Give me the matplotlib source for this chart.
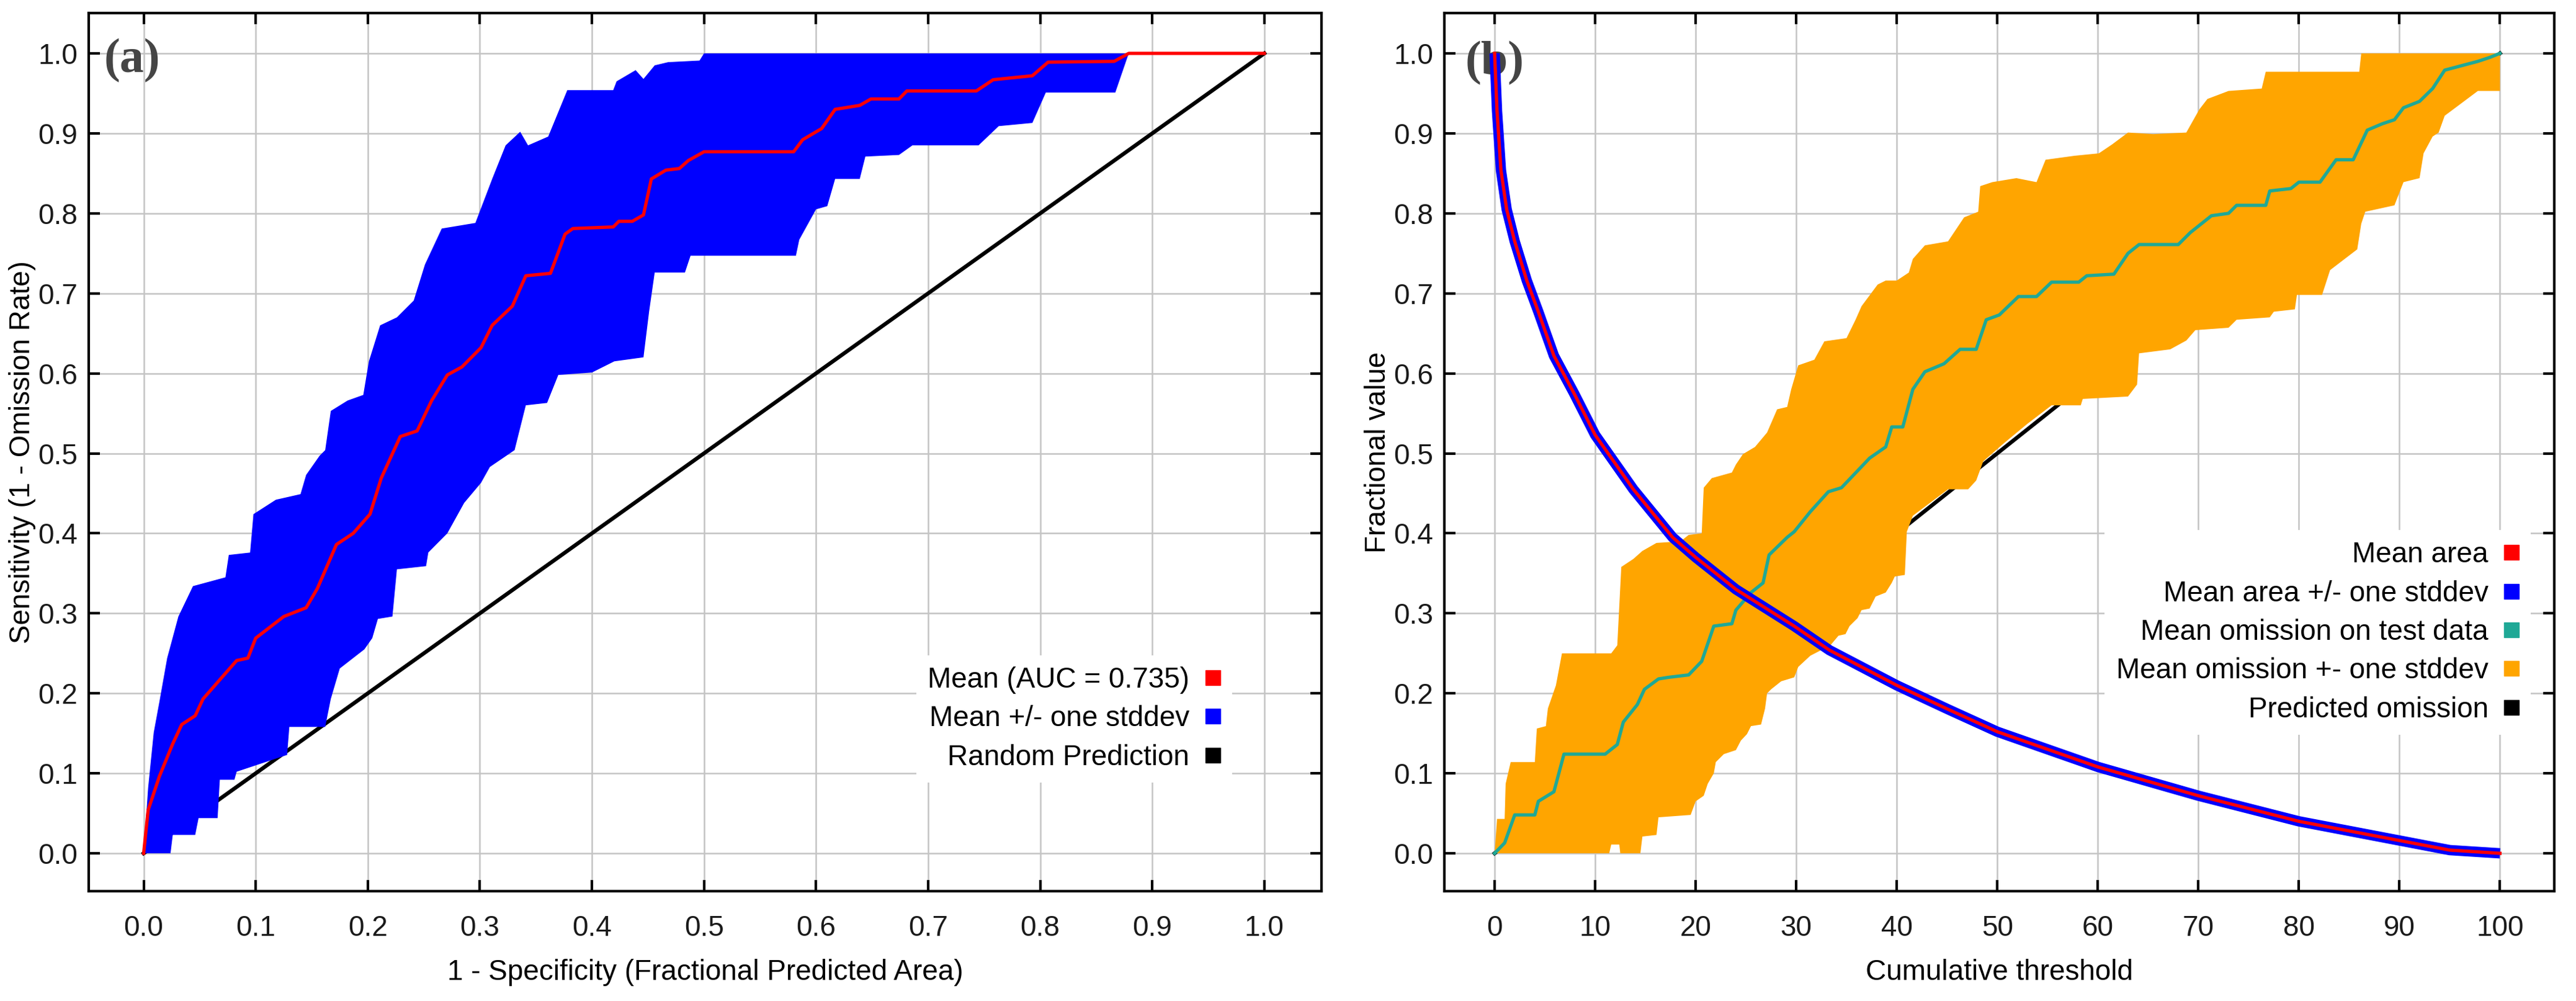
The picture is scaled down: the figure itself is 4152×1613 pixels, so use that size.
import matplotlib
matplotlib.use("Agg")
import matplotlib.pyplot as plt
import numpy as np
from matplotlib.lines import Line2D

plt.rcParams['font.family'] = ['Liberation Sans', 'DejaVu Sans']

# ---- panel (a): ROC ----
roc_x = [0, 0.004, 0.014, 0.026, 0.034, 0.046, 0.053, 0.068, 0.083, 0.093,
         0.1, 0.113, 0.125, 0.145, 0.155, 0.172, 0.187, 0.202, 0.212, 0.229,
         0.244, 0.257, 0.271, 0.284, 0.301, 0.311, 0.329, 0.341, 0.363, 0.376,
         0.383, 0.419, 0.424, 0.436, 0.446, 0.453, 0.466, 0.478, 0.486, 0.5,
         0.58, 0.588, 0.605, 0.617, 0.639, 0.649, 0.674, 0.681, 0.743, 0.758,
         0.793, 0.807, 0.866, 0.879, 1.0]
roc_y = [0, 0.054, 0.096, 0.137, 0.161, 0.172, 0.193, 0.217, 0.241, 0.244,
         0.269, 0.283, 0.296, 0.307, 0.331, 0.386, 0.4, 0.424, 0.469, 0.521,
         0.528, 0.566, 0.598, 0.608, 0.632, 0.66, 0.684, 0.722, 0.725, 0.774,
         0.781, 0.783, 0.79, 0.79, 0.798, 0.843, 0.854, 0.856, 0.866, 0.877,
         0.877, 0.892, 0.906, 0.93, 0.935, 0.943, 0.943, 0.953, 0.953, 0.967,
         0.972, 0.989, 0.99, 1.0, 1.0]

roc_up_x = [0, 0.004, 0.009, 0.014, 0.021, 0.031, 0.044, 0.073, 0.076, 0.095,
            0.098, 0.118, 0.14, 0.145, 0.157, 0.162, 0.167, 0.182, 0.196, 0.201,
            0.211, 0.226, 0.241, 0.251, 0.266, 0.296, 0.311, 0.323, 0.336, 0.343,
            0.361, 0.378, 0.419, 0.422, 0.439, 0.446, 0.456, 0.468, 0.496, 0.5,
            0.879]
roc_up_y = [0, 0.082, 0.151, 0.189, 0.244, 0.296, 0.334, 0.345, 0.373, 0.376,
            0.424, 0.442, 0.449, 0.473, 0.497, 0.504, 0.553, 0.566, 0.573, 0.615,
            0.66, 0.67, 0.691, 0.736, 0.781, 0.788, 0.843, 0.885, 0.902, 0.885,
            0.896, 0.954, 0.954, 0.965, 0.979, 0.968, 0.985, 0.989, 0.991, 1.0,
            1.0]

roc_lo_x = [0, 0.024, 0.026, 0.046, 0.049, 0.066, 0.068, 0.081, 0.083, 0.128,
            0.13, 0.162, 0.167, 0.175, 0.197, 0.204, 0.209, 0.222, 0.226, 0.252,
            0.254, 0.271, 0.286, 0.301, 0.309, 0.331, 0.341, 0.36, 0.37, 0.4,
            0.42, 0.446, 0.451, 0.456, 0.483, 0.488, 0.582, 0.585, 0.6, 0.61,
            0.617, 0.639, 0.644, 0.674, 0.686, 0.745, 0.763, 0.793, 0.805, 0.867,
            0.879]
roc_lo_y = [0, 0, 0.023, 0.023, 0.044, 0.044, 0.092, 0.092, 0.102, 0.123,
            0.158, 0.158, 0.193, 0.231, 0.255, 0.269, 0.293, 0.296, 0.355, 0.359,
            0.376, 0.4, 0.438, 0.463, 0.483, 0.504, 0.56, 0.563, 0.598, 0.601,
            0.615, 0.62, 0.677, 0.726, 0.726, 0.747, 0.747, 0.767, 0.805, 0.809,
            0.843, 0.843, 0.871, 0.873, 0.885, 0.885, 0.909, 0.913, 0.951, 0.951,
            1.0]

random_x = [0, 1]
random_y = [0, 1]

roc_labels = ["Mean (AUC = 0.735)", "Mean +/- one stddev", "Random Prediction"]

# ---- panel (b): omission / predicted area ----
area_x = [0, 0.24, 0.63, 1.2, 2.0, 3.2, 4.35, 5.9, 7.9, 10, 13.8, 17.7, 20, 24,
          29.8, 33.3, 40, 45.1, 50, 60, 70, 80, 90, 95, 100]
area_y = [1.0, 0.928, 0.854, 0.805, 0.765, 0.716, 0.677, 0.622, 0.575, 0.523,
          0.455, 0.395, 0.37, 0.33, 0.284, 0.254, 0.21, 0.18, 0.152, 0.108,
          0.072, 0.04, 0.016, 0.004, 0.0]

om_x = [0, 1.0, 2.0, 4.0, 4.35, 5.9, 6.9, 11.0, 12.2, 12.8,
        14.2, 14.9, 16.3, 17.3, 19.3, 20.6, 21.8, 23.6, 24, 25.5,
        26.7, 27.3, 29.1, 29.8, 31.4, 33.2, 34.5, 37.3, 38.9, 39.5,
        40.6, 41.6, 42.8, 44.7, 46.3, 47.9, 48.9, 50.2, 52.1, 53.9,
        55.4, 58.1, 58.9, 61.6, 63.0, 64.1, 68, 69.2, 71.3, 73,
        73.8, 76.7, 77.1, 79.2, 80, 82.1, 83.7, 85.4, 86.8, 88.3,
        89.5, 90.4, 92, 93.3, 94.5, 97.8, 99, 100]
om_y = [0, 0.013, 0.048, 0.048, 0.065, 0.077, 0.124, 0.124, 0.136, 0.164,
        0.186, 0.205, 0.218, 0.22, 0.223, 0.24, 0.284, 0.287, 0.304, 0.326,
        0.338, 0.373, 0.395, 0.402, 0.427, 0.452, 0.457, 0.494, 0.508, 0.533,
        0.533, 0.58, 0.602, 0.612, 0.63, 0.63, 0.667, 0.673, 0.696, 0.696,
        0.714, 0.714, 0.722, 0.724, 0.75, 0.761, 0.761, 0.776, 0.797, 0.8,
        0.81, 0.81, 0.828, 0.831, 0.839, 0.839, 0.867, 0.867, 0.904, 0.912,
        0.917, 0.932, 0.94, 0.956, 0.979, 0.99, 0.995, 1.0]

om_up_x = [0, 0.24, 1.0, 1.1, 1.6, 4.0, 4.2, 5.1, 5.3, 6.1,
           6.7, 11.6, 12.2, 12.6, 13.8, 14.7, 16.1, 18.5, 19.3, 20.6,
           20.8, 21.6, 23.6, 24, 24.7, 25.9, 27.1, 28.1, 29.1, 29.5,
           30.2, 31.8, 32.8, 35, 35.9, 36.5, 38.1, 38.9, 40, 41.2,
           41.6, 42.8, 45.1, 46.7, 48.1, 48.3, 49.5, 51.9, 53.9, 54.8,
           57.7, 60.1, 61.4, 63.0, 65.5, 68.8, 70.1, 70.9, 73, 76.3,
           76.7, 86.0, 86.2, 100]
om_up_y = [0, 0.043, 0.043, 0.087, 0.114, 0.114, 0.156, 0.159, 0.181, 0.21,
           0.25, 0.25, 0.26, 0.358, 0.368, 0.378, 0.388, 0.39, 0.398, 0.4,
           0.457, 0.469, 0.476, 0.486, 0.499, 0.508, 0.526, 0.555, 0.558, 0.58,
           0.61, 0.617, 0.64, 0.644, 0.667, 0.684, 0.711, 0.716, 0.716, 0.726,
           0.743, 0.76, 0.765, 0.795, 0.802, 0.834, 0.839, 0.844, 0.839, 0.867,
           0.872, 0.875, 0.886, 0.901, 0.899, 0.901, 0.93, 0.943, 0.953, 0.956,
           0.977, 0.977, 1.0, 1.0]

om_lo_x = [0, 11.4, 11.6, 12.4, 12.5, 14.5, 14.7, 16.1, 16.3, 19.5,
           20, 20.8, 21.2, 21.8, 22, 22.8, 24, 24.5, 25.1, 25.5,
           26.5, 26.9, 27.1, 27.5, 28.5, 29.8, 30.2, 31.4, 33.4, 34.2,
           34.9, 35.3, 36.1, 36.5, 37.3, 37.9, 38.9, 39.5, 39.8, 40.8,
           41.0, 41.6, 45.1, 47.1, 47.9, 48.6, 50.6, 53, 55.4, 58.3,
           58.5, 63, 63.9, 64.1, 67.2, 68.8, 69.7, 73, 73.8, 77.1,
           77.5, 79.6, 79.8, 82.3, 83.1, 85.8, 86.2, 86.6, 89.5, 90.4,
           92, 92.4, 93.3, 93.9, 94.5, 97.8, 100, 100]
om_lo_y = [0, 0, 0.011, 0.011, 0, 0, 0.021, 0.023, 0.045, 0.048,
           0.065, 0.072, 0.087, 0.1, 0.114, 0.124, 0.129, 0.141, 0.149, 0.159,
           0.161, 0.181, 0.2, 0.205, 0.215, 0.22, 0.233, 0.247, 0.26, 0.272,
           0.274, 0.284, 0.294, 0.304, 0.306, 0.321, 0.326, 0.338, 0.346, 0.348,
           0.402, 0.422, 0.455, 0.455, 0.466, 0.49, 0.512, 0.537, 0.56, 0.56,
           0.568, 0.571, 0.586, 0.625, 0.63, 0.641, 0.654, 0.657, 0.667, 0.67,
           0.677, 0.68, 0.698, 0.698, 0.729, 0.755, 0.787, 0.802, 0.81, 0.839,
           0.844, 0.875, 0.896, 0.901, 0.922, 0.953, 0.953, 1.0]

pred_x = [0, 100]
pred_y = [0, 1.0]

om_labels = ["Mean area", "Mean area +/- one stddev", "Mean omission on test data",
             "Mean omission +- one stddev", "Predicted omission"]

# colours
RED = '#ff0000'
BLUE = '#0000ff'
TEAL = '#1fa896'
ORANGE = '#ffa500'
BLACK = '#000000'

FS = 33

fig = plt.figure(figsize=(41.52, 16.13), dpi=100)
ax1 = fig.add_axes([0.03444, 0.10973, 0.47857, 0.87725])
ax2 = fig.add_axes([0.56069, 0.10973, 0.43088, 0.87725])


def style_axes(ax):
    ax.set_axisbelow(True)
    ax.grid(True, color='#c4c4c4', linewidth=1.8)
    for sp in ax.spines.values():
        sp.set_linewidth(3)
        sp.set_color('black')
    ax.tick_params(direction='in', length=13, width=3, top=True, right=True,
                   labelsize=FS, colors='black', labelcolor='#1a1a1a')
    ax.tick_params(axis='x', pad=27)
    ax.tick_params(axis='y', pad=13)
    ax.set_yticks(np.arange(0, 1.01, 0.1))
    ax.set_yticklabels([f"{v:.1f}" for v in np.arange(0, 1.01, 0.1)])
    ax.set_ylim(-0.0473, 1.0504)


# ---- left panel ----
ax1.plot(random_x, random_y, color=BLACK, linewidth=4.5, zorder=2)
ax1.fill(np.concatenate([roc_up_x, roc_lo_x[::-1]]),
         np.concatenate([roc_up_y, roc_lo_y[::-1]]),
         color=BLUE, linewidth=0, zorder=3)
ax1.plot(roc_x, roc_y, color=RED, linewidth=3.8, zorder=4)
style_axes(ax1)
ax1.set_xlim(-0.049, 1.051)
ax1.set_xticks(np.arange(0, 1.01, 0.1))
ax1.set_xticklabels([f"{v:.1f}" for v in np.arange(0, 1.01, 0.1)])
ax1.set_xlabel("1 - Specificity (Fractional Predicted Area)", fontsize=FS, labelpad=20)
ax1.set_ylabel("Sensitivity (1 - Omission Rate)", fontsize=FS, labelpad=2)
ax1.text(0.0126, 0.9456, "(a)", transform=ax1.transAxes, ha='left', va='center',
         fontsize=56, family=['Liberation Serif', 'DejaVu Serif'], fontweight='bold',
         color='#454545', zorder=1)

h1 = [Line2D([], [], marker='s', ls='none', color=c, markersize=17)
      for c in (RED, BLUE, BLACK)]
leg1 = ax1.legend(h1, roc_labels, loc='lower right', bbox_to_anchor=(0.9275, 0.1237),
                  markerfirst=False, frameon=True, facecolor='white', edgecolor='none',
                  framealpha=1, fancybox=False, handlelength=0.55, handletextpad=0.55,
                  labelspacing=0.4, borderpad=0.4, borderaxespad=0, fontsize=FS)
leg1.set_zorder(10)

# ---- right panel ----
ax2.plot(pred_x, pred_y, color=BLACK, linewidth=4.5, zorder=2)
ax2.fill(np.concatenate([om_up_x, om_lo_x[::-1]]),
         np.concatenate([om_up_y, om_lo_y[::-1]]),
         color=ORANGE, linewidth=0, zorder=3)
ax2.plot(om_x, om_y, color=TEAL, linewidth=3.8, zorder=4)
ax2.plot(area_x, area_y, color=BLUE, linewidth=12, zorder=5, solid_capstyle='butt')
ax2.plot(area_x, area_y, color=RED, linewidth=3.8, zorder=6)
style_axes(ax2)
ax2.set_xlim(-5.0, 105.4)
ax2.set_xticks(np.arange(0, 101, 10))
ax2.set_xlabel("Cumulative threshold", fontsize=FS, labelpad=20)
ax2.set_ylabel("Fractional value", fontsize=FS, labelpad=2)
ax2.text(0.019, 0.943, "(b)", transform=ax2.transAxes, ha='left', va='center',
         fontsize=56, family=['Liberation Serif', 'DejaVu Serif'], fontweight='bold',
         color='#454545', zorder=1)

h2 = [Line2D([], [], marker='s', ls='none', color=c, markersize=17)
      for c in (RED, BLUE, TEAL, ORANGE, BLACK)]
leg2 = ax2.legend(h2, om_labels, loc='lower right', bbox_to_anchor=(0.979, 0.178),
                  markerfirst=False, frameon=True, facecolor='white', edgecolor='none',
                  framealpha=1, fancybox=False, handlelength=0.55, handletextpad=0.55,
                  labelspacing=0.4, borderpad=0.4, borderaxespad=0, fontsize=FS)
leg2.set_zorder(10)

fig.savefig("out.png", dpi=100)
